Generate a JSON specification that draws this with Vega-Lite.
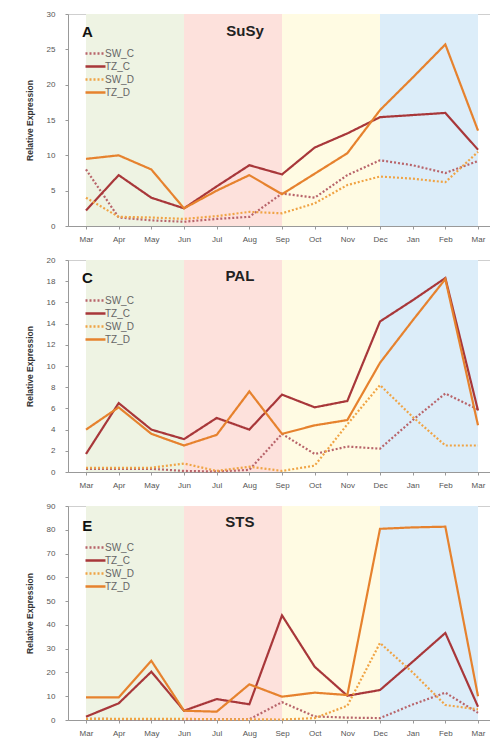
{
  "$schema": "https://vega.github.io/schema/vega-lite/v6.json",
  "padding": {"left": 24, "top": 9, "right": 0, "bottom": 2},
  "background": "white",
  "spacing": 11,
  "datasets": {
    "bands": [
      {"season": "spring", "start": 0, "end": 3},
      {"season": "summer", "start": 3, "end": 6},
      {"season": "autumn", "start": 6, "end": 9},
      {"season": "winter", "start": 9, "end": 12}
    ],
    "expr": [
      {"panel": "A", "series": "SW_C", "m": 0, "v": 8.0}, {"panel": "A", "series": "SW_C", "m": 1, "v": 1.2}, {"panel": "A", "series": "SW_C", "m": 2, "v": 0.8}, {"panel": "A", "series": "SW_C", "m": 3, "v": 0.6}, {"panel": "A", "series": "SW_C", "m": 4, "v": 1.0}, {"panel": "A", "series": "SW_C", "m": 5, "v": 1.3}, {"panel": "A", "series": "SW_C", "m": 6, "v": 4.6}, {"panel": "A", "series": "SW_C", "m": 7, "v": 4.0}, {"panel": "A", "series": "SW_C", "m": 8, "v": 7.2}, {"panel": "A", "series": "SW_C", "m": 9, "v": 9.3}, {"panel": "A", "series": "SW_C", "m": 10, "v": 8.6}, {"panel": "A", "series": "SW_C", "m": 11, "v": 7.5}, {"panel": "A", "series": "SW_C", "m": 12, "v": 9.2},
      {"panel": "A", "series": "TZ_C", "m": 0, "v": 2.2}, {"panel": "A", "series": "TZ_C", "m": 1, "v": 7.2}, {"panel": "A", "series": "TZ_C", "m": 2, "v": 4.0}, {"panel": "A", "series": "TZ_C", "m": 3, "v": 2.5}, {"panel": "A", "series": "TZ_C", "m": 4, "v": 5.6}, {"panel": "A", "series": "TZ_C", "m": 5, "v": 8.6}, {"panel": "A", "series": "TZ_C", "m": 6, "v": 7.3}, {"panel": "A", "series": "TZ_C", "m": 7, "v": 11.1}, {"panel": "A", "series": "TZ_C", "m": 8, "v": 13.1}, {"panel": "A", "series": "TZ_C", "m": 9, "v": 15.4}, {"panel": "A", "series": "TZ_C", "m": 10, "v": 15.7}, {"panel": "A", "series": "TZ_C", "m": 11, "v": 16.0}, {"panel": "A", "series": "TZ_C", "m": 12, "v": 10.8},
      {"panel": "A", "series": "SW_D", "m": 0, "v": 4.0}, {"panel": "A", "series": "SW_D", "m": 1, "v": 1.3}, {"panel": "A", "series": "SW_D", "m": 2, "v": 1.2}, {"panel": "A", "series": "SW_D", "m": 3, "v": 1.0}, {"panel": "A", "series": "SW_D", "m": 4, "v": 1.4}, {"panel": "A", "series": "SW_D", "m": 5, "v": 2.0}, {"panel": "A", "series": "SW_D", "m": 6, "v": 1.8}, {"panel": "A", "series": "SW_D", "m": 7, "v": 3.2}, {"panel": "A", "series": "SW_D", "m": 8, "v": 5.8}, {"panel": "A", "series": "SW_D", "m": 9, "v": 7.0}, {"panel": "A", "series": "SW_D", "m": 10, "v": 6.7}, {"panel": "A", "series": "SW_D", "m": 11, "v": 6.2}, {"panel": "A", "series": "SW_D", "m": 12, "v": 10.5},
      {"panel": "A", "series": "TZ_D", "m": 0, "v": 9.5}, {"panel": "A", "series": "TZ_D", "m": 1, "v": 10.0}, {"panel": "A", "series": "TZ_D", "m": 2, "v": 8.0}, {"panel": "A", "series": "TZ_D", "m": 3, "v": 2.5}, {"panel": "A", "series": "TZ_D", "m": 4, "v": 5.0}, {"panel": "A", "series": "TZ_D", "m": 5, "v": 7.2}, {"panel": "A", "series": "TZ_D", "m": 6, "v": 4.5}, {"panel": "A", "series": "TZ_D", "m": 7, "v": 7.4}, {"panel": "A", "series": "TZ_D", "m": 8, "v": 10.3}, {"panel": "A", "series": "TZ_D", "m": 9, "v": 16.4}, {"panel": "A", "series": "TZ_D", "m": 10, "v": 21.0}, {"panel": "A", "series": "TZ_D", "m": 11, "v": 25.7}, {"panel": "A", "series": "TZ_D", "m": 12, "v": 13.5},

      {"panel": "C", "series": "SW_C", "m": 0, "v": 0.3}, {"panel": "C", "series": "SW_C", "m": 1, "v": 0.3}, {"panel": "C", "series": "SW_C", "m": 2, "v": 0.3}, {"panel": "C", "series": "SW_C", "m": 3, "v": 0.1}, {"panel": "C", "series": "SW_C", "m": 4, "v": 0.05}, {"panel": "C", "series": "SW_C", "m": 5, "v": 0.2}, {"panel": "C", "series": "SW_C", "m": 6, "v": 3.6}, {"panel": "C", "series": "SW_C", "m": 7, "v": 1.7}, {"panel": "C", "series": "SW_C", "m": 8, "v": 2.4}, {"panel": "C", "series": "SW_C", "m": 9, "v": 2.2}, {"panel": "C", "series": "SW_C", "m": 10, "v": 4.9}, {"panel": "C", "series": "SW_C", "m": 11, "v": 7.4}, {"panel": "C", "series": "SW_C", "m": 12, "v": 5.9},
      {"panel": "C", "series": "TZ_C", "m": 0, "v": 1.7}, {"panel": "C", "series": "TZ_C", "m": 1, "v": 6.5}, {"panel": "C", "series": "TZ_C", "m": 2, "v": 4.0}, {"panel": "C", "series": "TZ_C", "m": 3, "v": 3.1}, {"panel": "C", "series": "TZ_C", "m": 4, "v": 5.1}, {"panel": "C", "series": "TZ_C", "m": 5, "v": 4.0}, {"panel": "C", "series": "TZ_C", "m": 6, "v": 7.3}, {"panel": "C", "series": "TZ_C", "m": 7, "v": 6.1}, {"panel": "C", "series": "TZ_C", "m": 8, "v": 6.7}, {"panel": "C", "series": "TZ_C", "m": 9, "v": 14.2}, {"panel": "C", "series": "TZ_C", "m": 10, "v": 16.2}, {"panel": "C", "series": "TZ_C", "m": 11, "v": 18.3}, {"panel": "C", "series": "TZ_C", "m": 12, "v": 5.8},
      {"panel": "C", "series": "SW_D", "m": 0, "v": 0.4}, {"panel": "C", "series": "SW_D", "m": 1, "v": 0.4}, {"panel": "C", "series": "SW_D", "m": 2, "v": 0.4}, {"panel": "C", "series": "SW_D", "m": 3, "v": 0.8}, {"panel": "C", "series": "SW_D", "m": 4, "v": 0.1}, {"panel": "C", "series": "SW_D", "m": 5, "v": 0.5}, {"panel": "C", "series": "SW_D", "m": 6, "v": 0.1}, {"panel": "C", "series": "SW_D", "m": 7, "v": 0.6}, {"panel": "C", "series": "SW_D", "m": 8, "v": 4.5}, {"panel": "C", "series": "SW_D", "m": 9, "v": 8.2}, {"panel": "C", "series": "SW_D", "m": 10, "v": 5.2}, {"panel": "C", "series": "SW_D", "m": 11, "v": 2.5}, {"panel": "C", "series": "SW_D", "m": 12, "v": 2.5},
      {"panel": "C", "series": "TZ_D", "m": 0, "v": 4.0}, {"panel": "C", "series": "TZ_D", "m": 1, "v": 6.1}, {"panel": "C", "series": "TZ_D", "m": 2, "v": 3.6}, {"panel": "C", "series": "TZ_D", "m": 3, "v": 2.5}, {"panel": "C", "series": "TZ_D", "m": 4, "v": 3.5}, {"panel": "C", "series": "TZ_D", "m": 5, "v": 7.6}, {"panel": "C", "series": "TZ_D", "m": 6, "v": 3.6}, {"panel": "C", "series": "TZ_D", "m": 7, "v": 4.4}, {"panel": "C", "series": "TZ_D", "m": 8, "v": 4.9}, {"panel": "C", "series": "TZ_D", "m": 9, "v": 10.3}, {"panel": "C", "series": "TZ_D", "m": 10, "v": 14.3}, {"panel": "C", "series": "TZ_D", "m": 11, "v": 18.2}, {"panel": "C", "series": "TZ_D", "m": 12, "v": 4.4},

      {"panel": "E", "series": "SW_C", "m": 0, "v": 0.5}, {"panel": "E", "series": "SW_C", "m": 1, "v": 0.4}, {"panel": "E", "series": "SW_C", "m": 2, "v": 0.4}, {"panel": "E", "series": "SW_C", "m": 3, "v": 0.3}, {"panel": "E", "series": "SW_C", "m": 4, "v": 0.3}, {"panel": "E", "series": "SW_C", "m": 5, "v": 0.3}, {"panel": "E", "series": "SW_C", "m": 6, "v": 7.5}, {"panel": "E", "series": "SW_C", "m": 7, "v": 1.5}, {"panel": "E", "series": "SW_C", "m": 8, "v": 1.0}, {"panel": "E", "series": "SW_C", "m": 9, "v": 0.8}, {"panel": "E", "series": "SW_C", "m": 10, "v": 6.5}, {"panel": "E", "series": "SW_C", "m": 11, "v": 11.5}, {"panel": "E", "series": "SW_C", "m": 12, "v": 3.0},
      {"panel": "E", "series": "TZ_C", "m": 0, "v": 1.4}, {"panel": "E", "series": "TZ_C", "m": 1, "v": 7.0}, {"panel": "E", "series": "TZ_C", "m": 2, "v": 20.3}, {"panel": "E", "series": "TZ_C", "m": 3, "v": 3.9}, {"panel": "E", "series": "TZ_C", "m": 4, "v": 8.8}, {"panel": "E", "series": "TZ_C", "m": 5, "v": 6.6}, {"panel": "E", "series": "TZ_C", "m": 6, "v": 44.0}, {"panel": "E", "series": "TZ_C", "m": 7, "v": 22.4}, {"panel": "E", "series": "TZ_C", "m": 8, "v": 10.2}, {"panel": "E", "series": "TZ_C", "m": 9, "v": 12.6}, {"panel": "E", "series": "TZ_C", "m": 10, "v": 24.5}, {"panel": "E", "series": "TZ_C", "m": 11, "v": 36.6}, {"panel": "E", "series": "TZ_C", "m": 12, "v": 5.6},
      {"panel": "E", "series": "SW_D", "m": 0, "v": 0.5}, {"panel": "E", "series": "SW_D", "m": 1, "v": 0.5}, {"panel": "E", "series": "SW_D", "m": 2, "v": 0.5}, {"panel": "E", "series": "SW_D", "m": 3, "v": 0.5}, {"panel": "E", "series": "SW_D", "m": 4, "v": 0.3}, {"panel": "E", "series": "SW_D", "m": 5, "v": 0.3}, {"panel": "E", "series": "SW_D", "m": 6, "v": 0.2}, {"panel": "E", "series": "SW_D", "m": 7, "v": 0.8}, {"panel": "E", "series": "SW_D", "m": 8, "v": 6.0}, {"panel": "E", "series": "SW_D", "m": 9, "v": 32.4}, {"panel": "E", "series": "SW_D", "m": 10, "v": 20.0}, {"panel": "E", "series": "SW_D", "m": 11, "v": 6.3}, {"panel": "E", "series": "SW_D", "m": 12, "v": 4.5},
      {"panel": "E", "series": "TZ_D", "m": 0, "v": 9.5}, {"panel": "E", "series": "TZ_D", "m": 1, "v": 9.5}, {"panel": "E", "series": "TZ_D", "m": 2, "v": 24.9}, {"panel": "E", "series": "TZ_D", "m": 3, "v": 3.9}, {"panel": "E", "series": "TZ_D", "m": 4, "v": 3.5}, {"panel": "E", "series": "TZ_D", "m": 5, "v": 15.0}, {"panel": "E", "series": "TZ_D", "m": 6, "v": 9.8}, {"panel": "E", "series": "TZ_D", "m": 7, "v": 11.5}, {"panel": "E", "series": "TZ_D", "m": 8, "v": 10.5}, {"panel": "E", "series": "TZ_D", "m": 9, "v": 80.4}, {"panel": "E", "series": "TZ_D", "m": 10, "v": 81.0}, {"panel": "E", "series": "TZ_D", "m": 11, "v": 81.3}, {"panel": "E", "series": "TZ_D", "m": 12, "v": 10.0}
    ]
  },
  "vconcat": [
    {
      "width": 422, "height": 212,
      "layer": [
        {
          "data": {"name": "bands"},
          "mark": {"type": "rect"},
          "encoding": {
            "x": {"field": "start", "type": "quantitative", "scale": {"domain": [-0.551, 12.367], "nice": false, "zero": false},
                  "axis": {"values": [0,1,2,3,4,5,6,7,8,9,10,11,12], "tickCount": 30, "labelOverlap": false, "title": null, "labelExpr": "['Mar','Apr','May','Jun','Jul','Aug','Sep','Oct','Nov','Dec','Jan','Feb','Mar'][datum.value]"}},
            "x2": {"field": "end"},
            "y": {"datum": 0, "type": "quantitative", "scale": {"domain": [0, 30], "nice": false},
                  "axis": {"values": [0,5,10,15,20,25,30], "tickCount": 30, "format": "d", "labelOverlap": false, "title": "Relative Expression"}},
            "y2": {"datum": 30},
            "fill": {"field": "season", "type": "nominal", "legend": null,
                     "scale": {"domain": ["spring","summer","autumn","winter"], "range": ["#eef3e3","#fde1dc","#fffbe3","#dcedf9"]}}
          }
        },
        {
          "data": {"name": "expr"},
          "transform": [{"filter": "datum.panel === 'A'"}],
          "mark": {"type": "line", "strokeWidth": 2.2},
          "encoding": {
            "x": {"field": "m", "type": "quantitative"},
            "y": {"field": "v", "type": "quantitative"},
            "color": {"field": "series", "type": "nominal", "sort": null,
                      "scale": {"domain": ["SW_C","TZ_C","SW_D","TZ_D"], "range": ["#b8646a","#a8373a","#f0a445","#e6822e"]},
                      "legend": {"orient": "none", "legendX": 21, "legendY": 33, "title": null}},
            "strokeDash": {"field": "series", "type": "nominal", "sort": null,
                      "scale": {"domain": ["SW_C","TZ_C","SW_D","TZ_D"], "range": [[2,2],[1,0],[2,2],[1,0]]},
                      "legend": {"orient": "none", "legendX": 21, "legendY": 33, "title": null}}
          }
        },
        {
          "data": {"values": [{"t": "A", "m": 0.04, "v": 27.5}]},
          "mark": {"type": "text", "fontSize": 15, "fontWeight": "bold", "font": "Liberation Sans", "color": "#111"},
          "encoding": {"x": {"field": "m", "type": "quantitative"}, "y": {"field": "v", "type": "quantitative"}, "text": {"field": "t"}}
        },
        {
          "data": {"values": [{"t": "SuSy", "m": 4.87, "v": 27.6}]},
          "mark": {"type": "text", "fontSize": 15, "fontWeight": "bold", "font": "Liberation Sans", "color": "#222"},
          "encoding": {"x": {"field": "m", "type": "quantitative"}, "y": {"field": "v", "type": "quantitative"}, "text": {"field": "t"}}
        }
      ]
    },
    {
      "width": 422, "height": 212,
      "layer": [
        {
          "data": {"name": "bands"},
          "mark": {"type": "rect"},
          "encoding": {
            "x": {"field": "start", "type": "quantitative", "scale": {"domain": [-0.551, 12.367], "nice": false, "zero": false},
                  "axis": {"values": [0,1,2,3,4,5,6,7,8,9,10,11,12], "tickCount": 30, "labelOverlap": false, "title": null, "labelExpr": "['Mar','Apr','May','Jun','Jul','Aug','Sep','Oct','Nov','Dec','Jan','Feb','Mar'][datum.value]"}},
            "x2": {"field": "end"},
            "y": {"datum": 0, "type": "quantitative", "scale": {"domain": [0, 20], "nice": false},
                  "axis": {"values": [0,2,4,6,8,10,12,14,16,18,20], "tickCount": 30, "format": "d", "labelOverlap": false, "title": "Relative Expression"}},
            "y2": {"datum": 20},
            "fill": {"field": "season", "type": "nominal", "legend": null,
                     "scale": {"domain": ["spring","summer","autumn","winter"], "range": ["#eef3e3","#fde1dc","#fffbe3","#dcedf9"]}}
          }
        },
        {
          "data": {"name": "expr"},
          "transform": [{"filter": "datum.panel === 'C'"}],
          "mark": {"type": "line", "strokeWidth": 2.2},
          "encoding": {
            "x": {"field": "m", "type": "quantitative"},
            "y": {"field": "v", "type": "quantitative"},
            "color": {"field": "series", "type": "nominal", "sort": null,
                      "scale": {"domain": ["SW_C","TZ_C","SW_D","TZ_D"], "range": ["#b8646a","#a8373a","#f0a445","#e6822e"]},
                      "legend": {"orient": "none", "legendX": 21, "legendY": 34, "title": null}},
            "strokeDash": {"field": "series", "type": "nominal", "sort": null,
                      "scale": {"domain": ["SW_C","TZ_C","SW_D","TZ_D"], "range": [[2,2],[1,0],[2,2],[1,0]]},
                      "legend": {"orient": "none", "legendX": 21, "legendY": 34, "title": null}}
          }
        },
        {
          "data": {"values": [{"t": "C", "m": 0.04, "v": 18.3}]},
          "mark": {"type": "text", "fontSize": 15, "fontWeight": "bold", "font": "Liberation Sans", "color": "#111"},
          "encoding": {"x": {"field": "m", "type": "quantitative"}, "y": {"field": "v", "type": "quantitative"}, "text": {"field": "t"}}
        },
        {
          "data": {"values": [{"t": "PAL", "m": 4.71, "v": 18.5}]},
          "mark": {"type": "text", "fontSize": 15, "fontWeight": "bold", "font": "Liberation Sans", "color": "#222"},
          "encoding": {"x": {"field": "m", "type": "quantitative"}, "y": {"field": "v", "type": "quantitative"}, "text": {"field": "t"}}
        }
      ]
    },
    {
      "width": 422, "height": 214,
      "layer": [
        {
          "data": {"name": "bands"},
          "mark": {"type": "rect"},
          "encoding": {
            "x": {"field": "start", "type": "quantitative", "scale": {"domain": [-0.551, 12.367], "nice": false, "zero": false},
                  "axis": {"values": [0,1,2,3,4,5,6,7,8,9,10,11,12], "tickCount": 30, "labelOverlap": false, "title": null, "labelExpr": "['Mar','Apr','May','Jun','Jul','Aug','Sep','Oct','Nov','Dec','Jan','Feb','Mar'][datum.value]"}},
            "x2": {"field": "end"},
            "y": {"datum": 0, "type": "quantitative", "scale": {"domain": [0, 90], "nice": false},
                  "axis": {"values": [0,10,20,30,40,50,60,70,80,90], "tickCount": 30, "format": "d", "labelOverlap": false, "title": "Relative Expression"}},
            "y2": {"datum": 90},
            "fill": {"field": "season", "type": "nominal", "legend": null,
                     "scale": {"domain": ["spring","summer","autumn","winter"], "range": ["#eef3e3","#fde1dc","#fffbe3","#dcedf9"]}}
          }
        },
        {
          "data": {"name": "expr"},
          "transform": [{"filter": "datum.panel === 'E'"}],
          "mark": {"type": "line", "strokeWidth": 2.2},
          "encoding": {
            "x": {"field": "m", "type": "quantitative"},
            "y": {"field": "v", "type": "quantitative"},
            "color": {"field": "series", "type": "nominal", "sort": null,
                      "scale": {"domain": ["SW_C","TZ_C","SW_D","TZ_D"], "range": ["#b8646a","#a8373a","#f0a445","#e6822e"]},
                      "legend": {"orient": "none", "legendX": 21, "legendY": 35, "title": null}},
            "strokeDash": {"field": "series", "type": "nominal", "sort": null,
                      "scale": {"domain": ["SW_C","TZ_C","SW_D","TZ_D"], "range": [[2,2],[1,0],[2,2],[1,0]]},
                      "legend": {"orient": "none", "legendX": 21, "legendY": 35, "title": null}}
          }
        },
        {
          "data": {"values": [{"t": "E", "m": 0.04, "v": 81.6}]},
          "mark": {"type": "text", "fontSize": 15, "fontWeight": "bold", "font": "Liberation Sans", "color": "#111"},
          "encoding": {"x": {"field": "m", "type": "quantitative"}, "y": {"field": "v", "type": "quantitative"}, "text": {"field": "t"}}
        },
        {
          "data": {"values": [{"t": "STS", "m": 4.71, "v": 83.4}]},
          "mark": {"type": "text", "fontSize": 15, "fontWeight": "bold", "font": "Liberation Sans", "color": "#222"},
          "encoding": {"x": {"field": "m", "type": "quantitative"}, "y": {"field": "v", "type": "quantitative"}, "text": {"field": "t"}}
        }
      ]
    }
  ],
  "resolve": {
    "scale": {"color": "independent", "strokeDash": "independent", "fill": "independent", "y": "independent"},
    "legend": {"color": "independent", "strokeDash": "independent"}
  },
  "config": {
    "font": "Liberation Sans",
    "view": {"stroke": "#cfcfcf", "strokeWidth": 1},
    "axis": {
      "grid": false,
      "labelFontSize": 8, "labelColor": "#555", "labelFont": "Liberation Sans",
      "tickColor": "#999", "tickSize": 3, "domainColor": "#999",
      "titleFontSize": 8.5, "titleFontWeight": "bold", "titleColor": "#333", "titleFont": "Liberation Sans"
    },
    "axisX": {"labelPadding": 6, "labelFlush": false},
    "axisY": {"labelPadding": 10, "titlePadding": 12},
    "legend": {
      "labelFontSize": 10, "labelColor": "#666", "labelFont": "Liberation Sans",
      "symbolType": "M-2,0H2", "symbolStrokeWidth": 2.5, "symbolSize": 100,
      "rowPadding": 1, "labelOffset": 3, "padding": 0
    }
  }
}
